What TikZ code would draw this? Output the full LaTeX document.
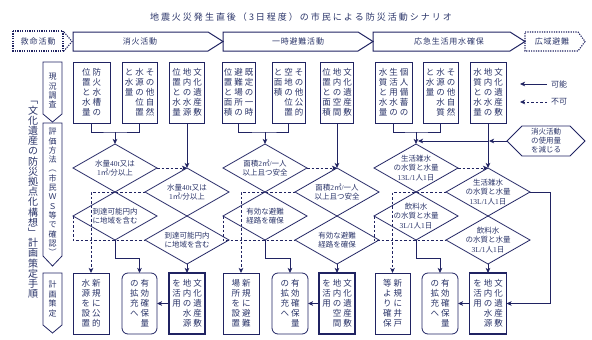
\documentclass[tikz,border=0pt]{standalone}
\usepackage{fontspec}
\setmainfont{Noto Sans CJK JP}
\newfontfamily\numfont{Liberation Serif}
\usetikzlibrary{shapes.geometric,arrows.meta}
\definecolor{navy}{RGB}{32,35,98}
\definecolor{txt}{RGB}{42,52,105}
\ExplSyntaxOn
\NewDocumentCommand\vcol{O{10pt}m}{
  \vtop{\baselineskip=#1\relax\lineskiplimit=-30pt\relax\lineskip=0pt\relax
    \tl_map_inline:nn{#2}{\hbox_to_wd:nn{10.5pt}{\hss##1\hss}}}
}
\NewDocumentCommand\vtext{O{10pt}m}{
  \seq_set_split:Nnn \l_tmpa_seq {,} {#2}
  \seq_reverse:N \l_tmpa_seq
  \hbox:n{\seq_map_inline:Nn \l_tmpa_seq {\vcol[#1]{##1}}}
}
\NewDocumentCommand\spread{mm}{\tl_map_inline:nn{#2}{##1\kern#1}\kern-#1}
\ExplSyntaxOff
\newcommand\nm[1]{{\numfont #1}}
\begin{document}
\begin{tikzpicture}[x=1pt,y=-1pt,
  ln/.style={draw=navy,line width=0.8pt},
  arr/.style={ln,-{Stealth[length=5pt,width=4.5pt,inset=1.2pt]}},
  darr/.style={arr,dash pattern=on 2.5pt off 2pt},
  dline/.style={ln,dash pattern=on 2.5pt off 2pt},
  hd/.style={draw=navy,line width=1pt},
  dhd/.style={draw=navy,line width=1.1pt,dash pattern=on 1.2pt off 1.2pt},
  tbox/.style={ln,rectangle,minimum height=61pt,inner sep=0pt,outer sep=0pt,font=\fontsize{8.5}{10}\selectfont,text=txt},
  rbox/.style={tbox,rounded corners=6pt},
  kbox/.style={tbox,line width=1.6pt},
  dia/.style={ln,diamond,minimum width=84pt,minimum height=48pt,inner sep=0pt,outer sep=0pt},
  dtxt/.style={align=center,font=\fontsize{7.5}{9.5}\selectfont,text=txt,inner sep=0pt},
  htxt/.style={font=\fontsize{8}{10}\selectfont,text=txt,inner sep=0pt},
  ptxt/.style={font=\fontsize{8}{9}\selectfont,text=txt,inner sep=0pt},
  ]
\useasboundingbox (0,0) rectangle (592,340);

% title
\node[font=\fontsize{9}{11}\selectfont,text=txt] (title) at (301,17) {\spread{2pt}{地震火災発生直後（3日程度）の市民による防災活動シナリオ}};

% header row
\draw[dhd] (13,31) rectangle (63,51);
\draw[dhd] (64,32) -- (72,41.5) -- (64,51);
\node[htxt] (h0) at (38,41.5) {\spread{1pt}{救命活動}};
\draw[hd] (73,32) -- (208,32) -- (223,41.5) -- (208,51) -- (73,51) -- cycle;
\node[htxt] (h1) at (140,41.5) {\spread{0.8pt}{消火活動}};
\draw[hd] (223,32) -- (358,32) -- (373,41.5) -- (358,51) -- (223,51) -- cycle;
\node[htxt] (h2) at (298,41.5) {\spread{0.8pt}{一時避難活動}};
\draw[hd] (373,32) -- (510,32) -- (525,41.5) -- (510,51) -- (373,51) -- cycle;
\node[htxt] (h3) at (449,41.5) {\spread{0.8pt}{応急生活用水確保}};
\draw[dhd] (525,32) -- (578,32) -- (585,41.5) -- (578,51) -- (525,51) -- cycle;
\node[htxt] (h4) at (552,41.5) {\spread{0.8pt}{広域避難}};

% left column
\node[font=\fontsize{10}{10.2}\selectfont,text=txt,inner sep=0pt] (main) at (33,200) {\vcol[10.2pt]{﹁文化遺産の防災拠点化構想﹂計画策定手順}};
\draw[ln] (43,62) -- (62,62) -- (62,114) -- (52.5,122) -- (43,114) -- cycle;
\draw[ln] (43,123) -- (62,123) -- (62,256) -- (52.5,266) -- (43,256) -- cycle;
\draw[ln] (43,273) -- (62,273) -- (62,325) -- (52.5,333) -- (43,325) -- cycle;
\node[ptxt] (p1) at (52.5,91) {\vcol[9.3pt]{現況調査}};
\node[ptxt] (p2) at (52.5,192) {\vcol[9.3pt]{評価方法︵市民ＷＳ等で確認︶}};
\node[ptxt] (p3) at (52.5,299) {\vcol[9.5pt]{計画策定}};

% legend
\coordinate (la1) at (547,84); \coordinate (lb1) at (520,84);
\draw[arr] (la1) -- (lb1);
\node[htxt,anchor=west] (lg1) at (551,84) {可能};
\coordinate (la2) at (547,102); \coordinate (lb2) at (520,102);
\draw[darr] (la2) -- (lb2);
\node[htxt,anchor=west] (lg2) at (551,102) {不可};

% hexagon
\draw[ln] (507,141) -- (522,126) -- (570,126) -- (585,141) -- (570,156) -- (522,156) -- cycle;
\node[align=center,font=\fontsize{7.5}{9}\selectfont,text=txt,inner sep=0pt] (hx) at (546,141) {消火活動\\の使用量\\を減じる};
\coordinate (hxw) at (507,141);

% ===== fire column =====
\node[tbox,minimum width=37pt] (t1) at (91.5,92.5) {\vtext{防火水槽の,位置と水量}};
\node[tbox,minimum width=35pt] (t2) at (139.5,92.5) {\vtext{その他自然,水源の位置,と水量}};
\node[tbox,minimum width=35pt] (t3) at (187,92.5) {\vtext{文化遺産敷,地内の水源,位置と水量}};
\node[dia] (A1) at (115,168) {};
\node[dia] (A2) at (115,216) {};
\node[dia] (A3) at (187,192) {};
\node[dia] (A4) at (187,240) {};
\node[dtxt] at (A1) {水量\nm{40t}又は\\\nm{1}㎥\nm{/}分以上};
\node[dtxt] at (A2) {到達可能円内\\に地域を含む};
\node[dtxt] at (A3) {水量\nm{40t}又は\\\nm{1}㎥\nm{/}分以上};
\node[dtxt] at (A4) {到達可能円内\\に地域を含む};
\node[tbox,minimum width=36pt] (F1) at (91,303.5) {\vtext{新規に公的,水源を設置}};
\node[rbox,minimum width=35pt] (F2) at (139.5,303.5) {\vtext{有効確保量,の拡充へ}};
\node[kbox,minimum width=36pt] (F3) at (187,303.5) {\vtext{文化遺産敷,地内の水源,を活用}};
\coordinate (f0) at (115,132);
\draw[ln] (t1.south) |- (f0) -| (t2.south);
\draw[arr] (f0) -- (A1.north);
\draw[arr] (t3.south) -- (A3.north);
\draw[darr] (A1.east) -- (A3.north);
\draw[darr] (A3.west) -| (F1.north);
\draw[dline] (A2.west) |- (A4.west);
\draw[arr] (A2.south) -- ++(0,18) -| (F2.north);
\draw[arr] (A4.south) -- (F3.north);
\draw[arr] (F3.west) -- (F2.east);

% ===== evacuation column =====
\node[tbox,minimum width=33pt] (t4) at (238.5,92.5) {\vtext{既定の一時,避難場所の,位置と面積}};
\node[tbox,minimum width=33pt] (t5) at (288.5,92.5) {\vtext{その他公的,空地の位置,と面積}};
\node[tbox,minimum width=33pt] (t6) at (337,92.5) {\vtext{文化遺産敷,地内の空間,位置と面積}};
\node[dia] (B1) at (265,168) {};
\node[dia] (B2) at (265,216) {};
\node[dia] (B3) at (337,192) {};
\node[dia] (B4) at (337,240) {};
\node[dtxt] at (B1) {面積\nm{2}㎡\nm{/}一人\\以上且つ安全};
\node[dtxt] at (B2) {有効な避難\\経路を確保};
\node[dtxt] at (B3) {面積\nm{2}㎡\nm{/}一人\\以上且つ安全};
\node[dtxt] at (B4) {有効な避難\\経路を確保};
\node[tbox,minimum width=36pt] (E1) at (241,303.5) {\vtext{新規に避難,場所を設置}};
\node[rbox,minimum width=36pt] (E2) at (290,303.5) {\vtext{有効確保量,の拡充へ}};
\node[kbox,minimum width=36pt] (E3) at (337,303.5) {\vtext{文化遺産敷,地内の空間,を活用}};
\coordinate (e0) at (265,132);
\draw[ln] (t4.south) |- (e0) -| (t5.south);
\draw[arr] (e0) -- (B1.north);
\draw[arr] (t6.south) -- (B3.north);
\draw[darr] (B1.east) -- (B3.north);
\draw[darr] (B3.west) -| (E1.north);
\draw[dline] (B2.west) |- (B4.west);
\draw[arr] (B2.south) -- ++(0,18) -| (E2.north);
\draw[arr] (B4.south) -- (E3.north);
\draw[arr] (E3.west) -- (E2.east);

% ===== water column =====
\node[tbox,minimum width=37pt] (t7) at (393.5,92.5) {\vtext{個人備蓄の,生活用水の,水質と水量}};
\node[tbox,minimum width=35pt] (t8) at (440.5,92.5) {\vtext{その他自然,水源の水質,と水量}};
\node[tbox,minimum width=36pt] (t9) at (488,92.5) {\vtext{文化遺産敷,地内の水の,水質と水量}};
\node[dia] (C1) at (416,168) {};
\node[dia] (C2) at (416,216) {};
\node[dia] (C3) at (488,192) {};
\node[dia] (C4) at (488,240) {};
\node[dtxt] at (C1) {生活雑水\\の水質と水量\\\nm{13L/1}人\nm{1}日};
\node[dtxt] at (C2) {飲料水\\の水質と水量\\\nm{3L/1}人\nm{1}日};
\node[dtxt] at (C3) {生活雑水\\の水質と水量\\\nm{13L/1}人\nm{1}日};
\node[dtxt] at (C4) {飲料水\\の水質と水量\\\nm{3L/1}人\nm{1}日};
\node[tbox,minimum width=35pt] (W1) at (392.5,303.5) {\vtext{新規に井戸,等より確保}};
\node[rbox,minimum width=36pt] (W2) at (440,303.5) {\vtext{有効確保量,の拡充へ}};
\node[kbox,minimum width=37pt] (W3) at (488,303.5) {\vtext{文化遺産敷,地内の水源,を活用}};
\coordinate (w0) at (416,132);
\draw[ln] (t7.south) |- (w0) -| (t8.south);
\draw[arr] (w0) -- (C1.north);
\draw[arr] (t9.south) -- (C3.north);
\draw[darr] (C1.east) -- (C3.north);
\draw[darr] (C3.west) -| (W1.north);
\draw[dline] (C2.west) |- (C4.west);
\draw[arr] (C2.south) -- ++(0,18) -| (W2.north);
\draw[arr] (C4.south) -- (W3.north);
\draw[arr] (W3.west) -- (W2.east);
\coordinate (wc) at (550,192);
\draw[arr] (C3.east) -- (wc) |- (W3.east);
\coordinate (hj) at (489,141);
\coordinate (hk) at (418,141);
\draw[arr] (hxw) -- (hj);
\draw[arr] (hj) -- (hk);
\end{tikzpicture}
\end{document}
